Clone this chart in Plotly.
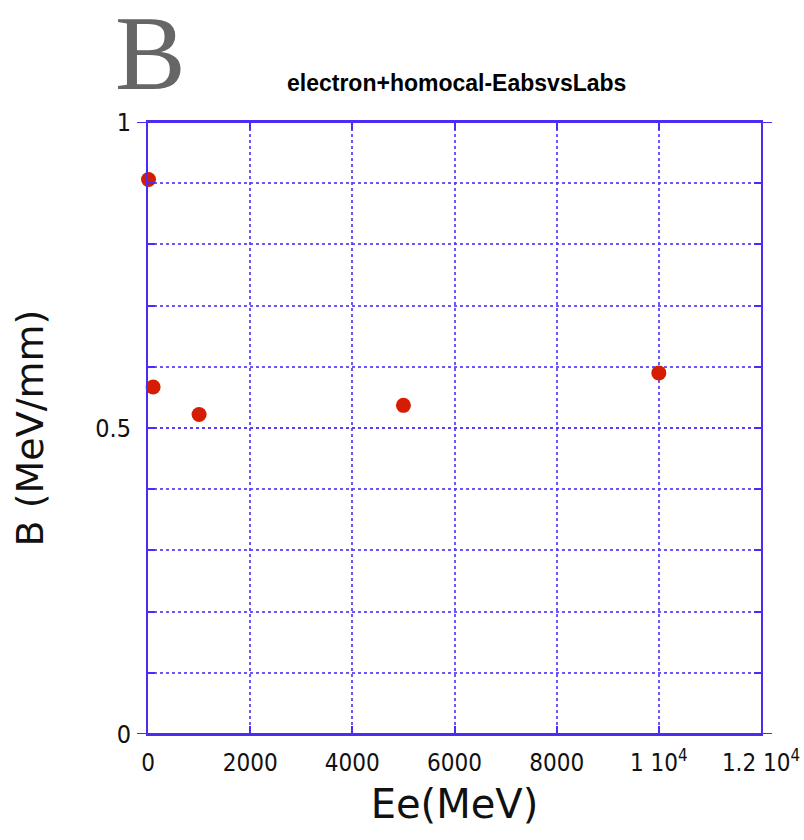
import plotly.graph_objects as go

# Data
energy_mev = [10, 100, 1000, 5000, 10000]
b_mev_per_mm = [0.906, 0.567, 0.522, 0.537, 0.590]

x_tickvals = [0, 2000, 4000, 6000, 8000, 10000, 12000]
x_ticktext = ["0", "2000", "4000", "6000", "8000", "1 10<sup>4</sup>", "1.2 10<sup>4</sup>"]
y_tickvals = [0, 0.5, 1]
y_ticktext = ["0", "0.5", "1"]

AX = "#4a2cf2"
GRID = "rgba(80,60,245,0.85)"
TXT = "#111111"
FONT = "DejaVu Sans Condensed, Liberation Sans Narrow, sans-serif"

fig = go.Figure()
fig.add_trace(go.Scatter(
    x=energy_mev, y=b_mev_per_mm, mode="markers",
    marker=dict(color="#d61c03", size=15, line=dict(width=0)),
    showlegend=False, cliponaxis=False,
))

fig.update_layout(
    width=804, height=840,
    margin=dict(l=148, r=43, t=122, b=106),
    paper_bgcolor="white", plot_bgcolor="white",
    title=dict(text="<b>electron+homocal-EabsvsLabs</b>", x=0.568, xanchor="center",
               y=1 - 83 / 840, yanchor="middle",
               font=dict(family="Liberation Sans Narrow, Arial Narrow, sans-serif", size=23, color="#000")),
    xaxis=dict(
        range=[0, 12000], tickvals=x_tickvals, ticktext=x_ticktext,
        showline=True, linecolor=AX, linewidth=2, mirror="ticks",
        ticks="inside", ticklen=8, tickcolor=AX, tickwidth=2,
        showgrid=True, gridcolor=GRID, griddash="dot", gridwidth=1.5,
        zeroline=False, ticklabelstandoff=6, automargin=False,
        tickfont=dict(family=FONT, size=24, color=TXT),
        title=dict(text="Ee(MeV)", font=dict(family="DejaVu Sans, sans-serif", size=40, color=TXT), standoff=14),
    ),
    yaxis=dict(
        range=[0, 1], tickvals=y_tickvals, ticktext=y_ticktext,
        showline=True, linecolor=AX, linewidth=2, mirror="ticks",
        ticks="inside", ticklen=7, tickcolor=AX, tickwidth=2,
        showgrid=True, gridcolor=GRID, griddash="dot", gridwidth=1.5,
        zeroline=False, ticklabelstandoff=10, automargin=False,
        minor=dict(dtick=0.1, ticks="inside", ticklen=7, tickcolor=AX, tickwidth=2,
                   showgrid=True, gridcolor=GRID, griddash="dot", gridwidth=1.5),
        tickfont=dict(family=FONT, size=25, color=TXT),
        title=dict(text="B (MeV/mm)", font=dict(family="DejaVu Sans, sans-serif", size=38, color=TXT), standoff=40),
    ),
)

# horizontal axis lines extend slightly beyond the frame
for yv in (0, 1):
    fig.add_shape(type="line", xref="paper", yref="y", x0=-0.018, x1=1.018, y0=yv, y1=yv,
                  line=dict(color=AX, width=2))

# Panel letter
fig.add_annotation(text="B", xref="paper", yref="paper", x=(150 - 148) / 613, y=1 + (122 - 54) / 612,
                   xanchor="center", yanchor="middle", showarrow=False,
                   font=dict(family="Liberation Serif, serif", size=106, color="#666666"))

fig.write_html("out.html")
